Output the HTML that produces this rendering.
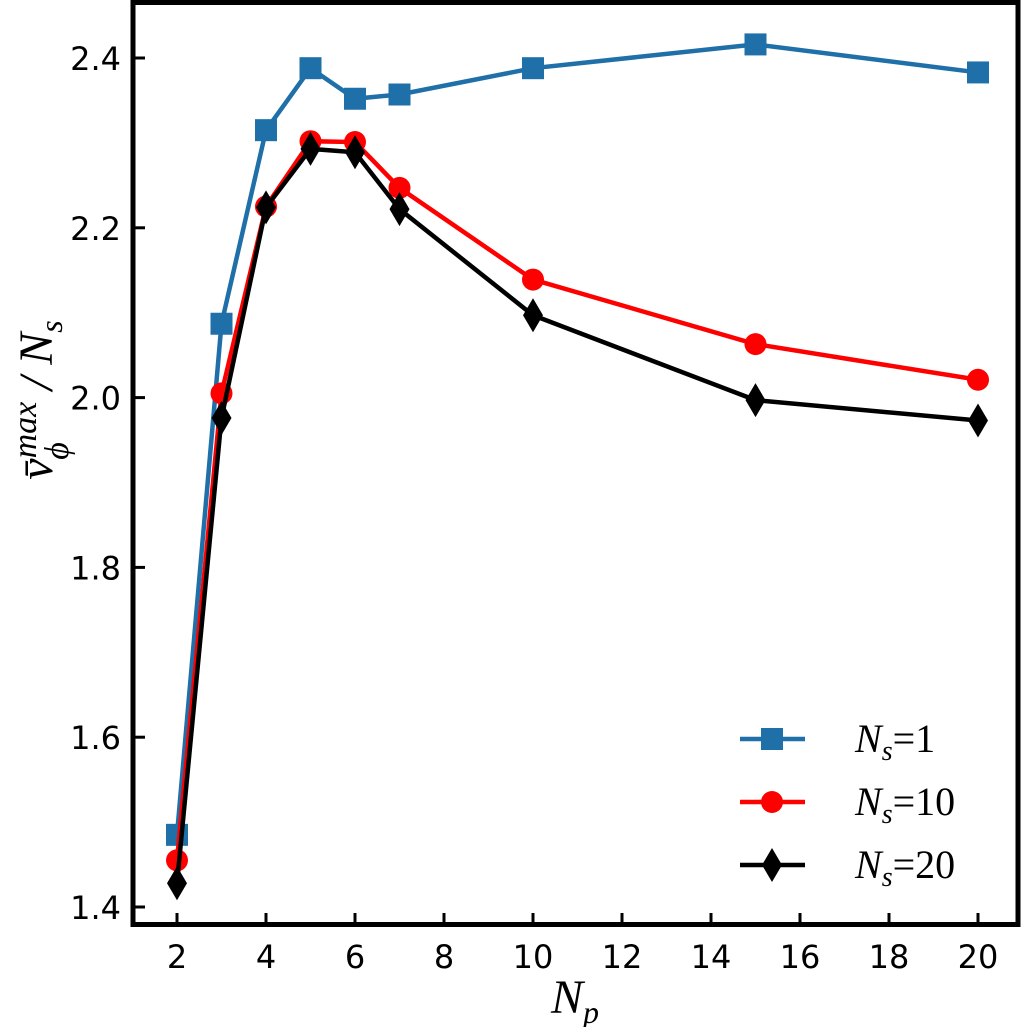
<!DOCTYPE html>
<html><head><meta charset="utf-8"><style>
body{margin:0;background:#fff}
svg{display:block}
text{font-family:"DejaVu Sans","Liberation Sans",sans-serif}
.m{font-family:"Liberation Serif",serif;font-style:italic}
</style></head><body>
<svg id="c" width="1025" height="1027">
<g id="plot"></g>
</svg>
<script>
const xs=[2,3,4,5,6,7,10,15,20];
const ns1=[1.485,2.087,2.315,2.388,2.352,2.357,2.388,2.416,2.383];
const ns10=[1.455,2.005,2.225,2.302,2.301,2.247,2.139,2.063,2.021];
const ns20=[1.428,1.976,2.224,2.293,2.289,2.222,2.097,1.997,1.973];
const xTicks=[2,4,6,8,10,12,14,16,18,20];
const yTicks=[1.4,1.6,1.8,2.0,2.2,2.4];
const NS="http://www.w3.org/2000/svg";
const X=v=>177+(v-2)*44.5, Y=v=>907-(v-1.4)*849;
const g=document.getElementById('plot');
function mk(t,a,p){const e=document.createElementNS(NS,t);for(const k in a)e.setAttribute(k,a[k]);(p||g).appendChild(e);return e;}
xTicks.forEach(t=>{
 const l=mk('line',{x1:X(t),x2:X(t),y1:925,y2:913,stroke:'#000','stroke-width':3});
 
 
 const tx=mk('text',{x:X(t),y:968,'text-anchor':'middle','font-size':32});tx.textContent=t;
 
 
});
yTicks.forEach(t=>{
 const l=mk('line',{x1:133,x2:145,y1:Y(t),y2:Y(t),stroke:'#000','stroke-width':3});
 
 
 const tx=mk('text',{x:121,y:Y(t)+12,'text-anchor':'end','font-size':32});tx.textContent=t.toFixed(1);
 
 
});
function marker(type,x,y,col){
 let e;
 if(type==='s')e=mk('rect',{x:x-11,y:y-11,width:22,height:22,fill:col});
 else if(type==='o')e=mk('circle',{cx:x,cy:y,r:11,fill:col});
 else e=mk('polygon',{points:`${x},${y-17} ${x+10},${y} ${x},${y+17} ${x-10},${y}`,fill:col});
 return e;
}
const series=[[ns1,'#1f6fa8','s','ns-1'],[ns10,'#ff0000','o','ns-10'],[ns20,'#000','d','ns-20']];
series.forEach(([d,col,m,n])=>{
 const p=mk('polyline',{points:d.map((v,i)=>X(xs[i])+','+Y(v)).join(' '),fill:'none',stroke:col,'stroke-width':4.5});
 
 
 d.forEach((v,i)=>{const e=marker(m,X(xs[i]),Y(v),col);
  
  });
});
const labs=['1','10','20'];
series.forEach(([d,col,m,n],i)=>{
 const y=739+i*63;
 const l=mk('line',{x1:740,x2:805,y1:y,y2:y,stroke:col,'stroke-width':4.5});
 
 
 const e=marker(m,772,y,col);
 
 
 const t=mk('text',{x:855,y:y+13,'font-size':40,class:'m'});
 t.innerHTML='N<tspan font-size="28" dy="8">s</tspan><tspan dy="-8" font-style="normal">=</tspan><tspan font-style="normal">'+labs[i]+'</tspan>';
 
 
});
const fr=mk('rect',{x:133,y:2.5,width:885,height:922,fill:'none',stroke:'#000','stroke-width':5});


const xt=mk('text',{x:575,y:1013,'text-anchor':'middle','font-size':48,class:'m'});
xt.innerHTML='N<tspan font-size="32" dy="10">p</tspan>';


const yt=mk('text',{transform:'translate(52,400) rotate(-90)','text-anchor':'middle','font-size':48,class:'m'});
yt.innerHTML='v̄<tspan font-size="34" dy="-16">max</tspan><tspan font-size="34" dx="-58" dy="32">ϕ</tspan><tspan dy="-16" dx="40"> / N</tspan><tspan font-size="32" dy="10">s</tspan>';


</script>
</body></html>
